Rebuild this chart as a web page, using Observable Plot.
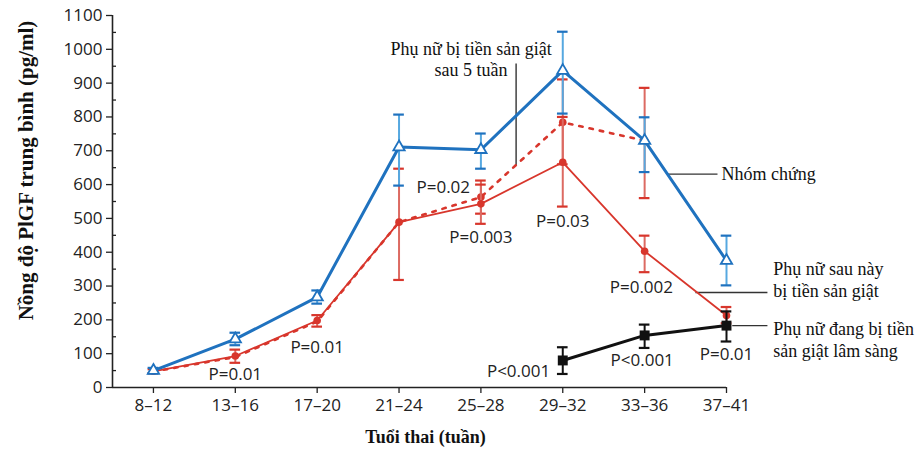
<!DOCTYPE html>
<html><head><meta charset="utf-8">
<script src="https://cdn.jsdelivr.net/npm/d3@7"></script>
<script src="https://cdn.jsdelivr.net/npm/@observablehq/plot@0.6"></script>
<style>body{margin:0;background:#fff}</style>
</head><body><div id="chart"></div>
<script>
// ---- data ----
const categories = ["8–12","13–16","17–20","21–24","25–28","29–32","33–36","37–41"];
const yTicks = [0,100,200,300,400,500,600,700,800,900,1000,1100];
const yMinor = [50,150,250,350,450,550,650,750,850,950,1050];

const control   = [50, 143, 267, 711, 703, 937, 730, 375];
const controlLo = [42, 125, 248, 597, 647, 810, 637, 302];
const controlHi = [58, 162, 287, 807, 751, 1052, 799, 449];

const laterPE   = [48, 93, 198, 489, 543, 666, 403, 213];
const laterLo   = [42, 73, 180, 318, 484, 535, 341, 190];
const laterHi   = [54, 112, 214, 647, 600, 800, 449, 238];

const after5PE   = [47, 90, 195, 489, 563, 784, 730];
const after5Lo   = [null, null, null, null, 514, 660, 560];
const after5Hi   = [null, null, null, null, 612, 911, 886];

const clinicalStart = 5;
const clinicalPE = [80, 154, 183];
const clinicalLo = [40, 117, 136];
const clinicalHi = [119, 186, 225];

const pLabels = ["P=0.01","P=0.01","P=0.02","P=0.003","P=0.03","P=0.002","P<0.001","P<0.001","P=0.01"];
const pX      = [1, 2, 3.54, 4, 5, 5.96, 4.46, 5.97, 7];
const pY      = [38, 118, 592, 443, 492, 297, 48, 80, 98];

const annoText = ["Phụ nữ bị tiền sản giật\nsau 5 tuần", "Nhóm chứng", "Phụ nữ sau này\nbị tiền sản giật", "Phụ nữ đang bị tiền\nsản giật lâm sàng"];
const annoX    = [3.88, 6.94, 7.57, 7.57];
const annoY    = [973, 633, 322, 143];
const annoAnchor = ["middle", "start", "start", "start"];

const leaderX1 = [4.43, 6.28, 6.62, 7.07];
const leaderY1 = [958, 631, 281, 183];
const leaderX2 = [4.43, 6.89, 7.5, 7.5];
const leaderY2 = [656, 631, 281, 183];

// ---- build tables ----
const mk = (vals, lo, hi, start = 0) => vals.map((v, k) => ({i: k + start, v, lo: lo[k], hi: hi[k]}));
const ctrl = mk(control, controlLo, controlHi);
const later = mk(laterPE, laterLo, laterHi);
const after5 = mk(after5PE, after5Lo, after5Hi);
const clin = mk(clinicalPE, clinicalLo, clinicalHi, clinicalStart);
const pTab = pLabels.map((t, k) => ({t, x: pX[k], y: pY[k]}));
const anno = annoText.map((t, k) => ({t, x: annoX[k], y: annoY[k], a: annoAnchor[k]}));
const leaders = leaderX1.map((x1, k) => ({x1, y1: leaderY1[k], x2: leaderX2[k], y2: leaderY2[k]}));

const cap = 0.065;
function errBars(data, light, dark) {
  const d = data.filter(r => r.lo != null);
  return [
    Plot.ruleX(d, {x: "i", y1: "lo", y2: "hi", stroke: light, strokeWidth: 2}),
    Plot.ruleY(d, {y: "hi", x1: r => r.i - cap, x2: r => r.i + cap, stroke: dark, strokeWidth: 2.2}),
    Plot.ruleY(d, {y: "lo", x1: r => r.i - cap, x2: r => r.i + cap, stroke: dark, strokeWidth: 2.2})
  ];
}

const BLUE = "#1f72bf", BLUE_L = "#56a8e0";
const RED = "#d8362c", RED_L = "#dc6a62";
const SANS = "Open Sans";
const SERIF = "Liberation Serif";

const annoMarks = ["middle", "start"].map(a =>
  Plot.text(anno.filter(d => d.a === a), {x: "x", y: "y", text: "t", textAnchor: a, fontSize: 18, fontFamily: SERIF, fill: "#111", lineHeight: 1.22})
);

const chart = Plot.plot({
  width: 919, height: 454,
  marginLeft: 112, marginRight: 193, marginTop: 15, marginBottom: 67,
  style: {fontFamily: SANS, fontSize: "17px", background: "#fff", color: "#222"},
  x: {type: "linear", domain: [-0.5, 7], axis: null},
  y: {domain: [0, 1100], axis: null},
  marks: [
    Plot.axisY(yTicks, {tickSize: 6, tickPadding: 4, tickFormat: d => String(d), label: null, fontSize: 17, fontFamily: SANS, stroke: "#222", strokeWidth: 1.3}),
    Plot.axisY(yMinor, {tickSize: 4, dx: 4, tickFormat: () => "", label: null, stroke: "#222", strokeWidth: 1.3}),
    Plot.axisX(categories.map((c, i) => i), {tickSize: 6, tickPadding: 5, tickFormat: i => categories[i], label: null, fontSize: 17, fontFamily: SANS, stroke: "#222", strokeWidth: 1.3}),
    Plot.ruleY([0], {x1: -0.5, x2: 7, stroke: "#222", strokeWidth: 1.6}),
    Plot.ruleX([-0.5], {y1: 0, y2: 1100, stroke: "#222", strokeWidth: 1.6}),

    // leaders
    Plot.link(leaders, {x1: "x1", y1: "y1", x2: "x2", y2: "y2", stroke: "#333", strokeWidth: 1.4}),

    // women later PE after 5 weeks (dashed)
    ...errBars(after5, RED_L, RED),
    Plot.line(after5, {x: "i", y: "v", stroke: RED, strokeWidth: 2.6, strokeDasharray: "3.5,7"}),
    Plot.dot(after5.filter(r => r.i >= 4), {x: "i", y: "v", r: 3.8, fill: RED}),

    // women later PE (solid)
    ...errBars(later, RED_L, RED),
    Plot.line(later, {x: "i", y: "v", stroke: RED, strokeWidth: 1.8}),
    Plot.dot(later, {x: "i", y: "v", r: 3.8, fill: RED}),

    // control
    ...errBars(ctrl, BLUE_L, BLUE),
    Plot.line(ctrl, {x: "i", y: "v", stroke: BLUE, strokeWidth: 3}),
    Plot.dot(ctrl, {x: "i", y: "v", symbol: "triangle", r: 4.2, fill: "#fff", stroke: BLUE, strokeWidth: 1.8}),

    // clinical PE
    ...errBars(clin, "#111", "#111"),
    Plot.line(clin, {x: "i", y: "v", stroke: "#111", strokeWidth: 3}),
    Plot.dot(clin, {x: "i", y: "v", symbol: "square", r: 5.6, fill: "#111"}),

    // p-values
    Plot.text(pTab, {x: "x", y: "y", text: "t", fontSize: 17, fontFamily: SANS, fill: "#222"}),

    // annotations
    ...annoMarks,

    // axis titles
    Plot.text(["Tuổi thai (tuần)"], {frameAnchor: "bottom", textAnchor: "middle", dx: 6, dy: 55, fontSize: 18, fontWeight: "bold", fontFamily: SERIF, fill: "#111"}),
    Plot.text(["Nồng độ PlGF trung bình (pg/ml)"], {frameAnchor: "left", textAnchor: "middle", dx: -86, dy: -31, rotate: -90, fontSize: 21, fontWeight: "bold", fontFamily: SERIF, fill: "#111"})
  ]
});
document.getElementById("chart").appendChild(chart);
</script>
</body></html>
